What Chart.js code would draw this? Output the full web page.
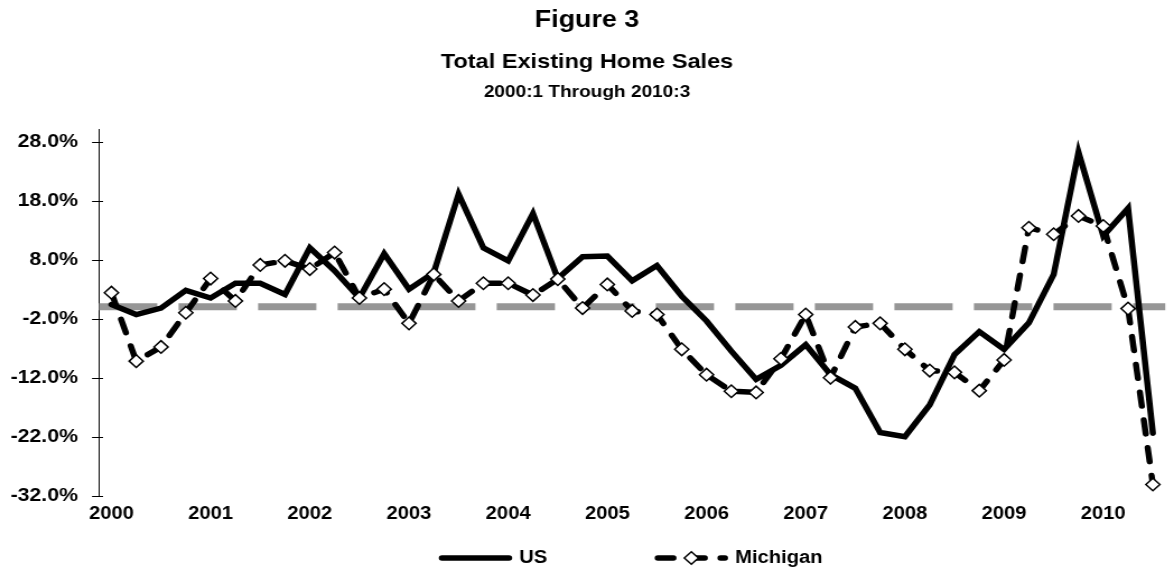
<!DOCTYPE html>
<html>
<head>
<meta charset="utf-8">
<script src="https://cdn.jsdelivr.net/npm/chart.js"></script>
<style>
html,body{margin:0;padding:0;background:#fff;overflow:hidden;}
#wrap{width:1048px;height:571px;transform:scaleX(1.12023);transform-origin:0 0;}
canvas{display:block;}
</style>
</head>
<body>
<div id="wrap"><canvas id="c" width="1048" height="571"></canvas></div>
<script>
const quarters = [
  '2000:1','2000:2','2000:3','2000:4','2001:1','2001:2','2001:3','2001:4',
  '2002:1','2002:2','2002:3','2002:4','2003:1','2003:2','2003:3','2003:4',
  '2004:1','2004:2','2004:3','2004:4','2005:1','2005:2','2005:3','2005:4',
  '2006:1','2006:2','2006:3','2006:4','2007:1','2007:2','2007:3','2007:4',
  '2008:1','2008:2','2008:3','2008:4','2009:1','2009:2','2009:3','2009:4',
  '2010:1','2010:2','2010:3'
];
const usValues = [
  0.4, -1.3, -0.2, 2.8, 1.5, 4.0, 4.0, 2.1,
  10.0, 6.1, 1.5, 9.0, 3.0, 5.8, 19.1, 10.0,
  7.8, 15.8, 4.8, 8.5, 8.6, 4.4, 7.0, 1.8,
  -2.4, -7.5, -12.3, -9.9, -6.4, -11.5, -13.8, -21.3,
  -22.0, -16.6, -8.1, -4.2, -7.2, -2.7, 5.5, 26.2,
  12.0, 16.7, -21.4
];
const michiganValues = [
  2.4, -9.2, -6.8, -1.0, 4.8, 1.0, 7.1, 7.8,
  6.4, 9.2, 1.5, 3.0, -2.8, 5.5, 1.0, 4.0,
  4.0, 2.0, 4.7, -0.2, 3.8, -0.7, -1.3, -7.2,
  -11.5, -14.3, -14.5, -8.8, -1.3, -12.0, -3.4, -2.8,
  -7.2, -10.8, -11.1, -14.2, -9.0, 13.4, 12.3, 15.4,
  13.7, -0.3, -30.1
];
const yTickValues = [-32, -22, -12, -2, 8, 18, 28];
const seriesNames = ['US', 'Michigan'];
const titleText = 'Figure 3';
const subtitleText = 'Total Existing Home Sales';
const periodText = '2000:1 Through 2010:3';

const FONT = "'Liberation Sans', Arial, Helvetica, sans-serif";
const LINE_W = 5.5;
const MI_DASH = [14, 14];

const zeroLine = {
  id: 'zeroLine',
  beforeDatasetsDraw(chart) {
    const {ctx, chartArea, scales: {y}} = chart;
    const py = y.getPixelForValue(0);
    ctx.save();
    ctx.strokeStyle = '#969696';
    ctx.lineWidth = 7;
    ctx.setLineDash([52, 19]);
    ctx.beginPath();
    ctx.moveTo(chartArea.left, py);
    ctx.lineTo(chartArea.right, py);
    ctx.stroke();
    ctx.restore();
  }
};

const crossTicks = {
  id: 'crossTicks',
  afterDraw(chart) {
    const {ctx, chartArea, scales: {y}} = chart;
    ctx.save();
    ctx.strokeStyle = '#000';
    ctx.lineWidth = 1;
    yTickValues.forEach(v => {
      const py = Math.round(y.getPixelForValue(v)) + 0.5;
      ctx.beginPath();
      ctx.moveTo(chartArea.left - 6.25, py);
      ctx.lineTo(chartArea.left + 3.6, py);
      ctx.stroke();
    });
    ctx.restore();
  }
};

const legendDiamond = {
  id: 'legendDiamond',
  afterDraw(chart) {
    const lg = chart.legend;
    if (!lg || !lg.legendHitBoxes || !lg.legendItems) return;
    const ctx = chart.ctx;
    lg.legendItems.forEach((item, i) => {
      if (item.datasetIndex !== 1) return;
      const hb = lg.legendHitBoxes[i];
      const bw = lg.options.labels.pointStyleWidth;
      ctx.save();
      ctx.setLineDash([]);
      ctx.fillStyle = '#fff';
      ctx.strokeStyle = '#000';
      ctx.lineWidth = 1.5;
      Chart.helpers.drawPoint(ctx, {pointStyle: 'rectRot', radius: 6.3, rotation: 0, borderWidth: 1.5}, hb.left + bw / 2, hb.top + 9);
      ctx.restore();
    });
  }
};

new Chart(document.getElementById('c'), {
  type: 'line',
  data: {
    labels: quarters,
    datasets: [
      {
        label: seriesNames[0],
        data: usValues,
        borderColor: '#000',
        backgroundColor: '#000',
        borderWidth: LINE_W,
        borderJoinStyle: 'miter',
        borderCapStyle: 'round',
        pointRadius: 0,
        tension: 0,
        order: 2
      },
      {
        label: seriesNames[1],
        data: michiganValues,
        borderColor: '#000',
        backgroundColor: '#fff',
        borderWidth: LINE_W,
        borderDash: MI_DASH,
        borderCapStyle: 'round',
        pointStyle: 'rectRot',
        pointRadius: 6.3,
        pointBorderWidth: 1.5,
        pointBackgroundColor: '#fff',
        pointBorderColor: '#000',
        tension: 0,
        order: 1
      }
    ]
  },
  options: {
    responsive: false,
    animation: false,
    devicePixelRatio: 1,
    layout: {padding: {left: 0, right: 0, top: 0, bottom: 0}},
    plugins: {
      tooltip: {enabled: false},
      title: {
        display: true, text: titleText, color: '#000',
        font: {family: FONT, size: 24, weight: 'bold', lineHeight: 1.2},
        padding: {top: 5.5, bottom: 0}
      },
      subtitle: {
        display: true, text: subtitleText, color: '#000',
        font: {family: FONT, size: 21, weight: 'bold', lineHeight: 1.2},
        padding: {top: 15.5, bottom: 0}
      },
      legend: {
        position: 'bottom',
        fullSize: false,
        maxHeight: 45.7,
        labels: {
          color: '#000',
          font: {family: FONT, size: 18, weight: 'bold'},
          usePointStyle: true,
          pointStyleWidth: 60,
          padding: 23.7,
          sort: (a, b) => a.datasetIndex - b.datasetIndex,
          generateLabels(chart) {
            const items = Chart.defaults.plugins.legend.labels.generateLabels(chart);
            return items.map(it => {
              const ds = chart.data.datasets[it.datasetIndex];
              it.pointStyle = 'line';
              it.lineCap = 'round';
              it.lineWidth = ds.borderWidth;
              it.lineDash = ds.borderDash || [];
              it.lineDashOffset = 0;
              it.strokeStyle = ds.borderColor;
              it.fillStyle = ds.borderColor;
              if (it.datasetIndex === 0) it.text = it.text + ' '.repeat(15);
              return it;
            });
          }
        }
      }
    },
    scales: {
      x: {
        type: 'category',
        offset: true,
        grid: {display: false, drawTicks: false},
        border: {display: false},
        ticks: {
          autoSkip: false, maxRotation: 0, minRotation: 0, padding: 8,
          color: '#000',
          font: {family: FONT, size: 18, weight: 'bold', lineHeight: 1.2},
          callback: (v, i) => (i % 4 === 0 ? quarters[i].slice(0, 4) : '')
        },
        afterFit: s => { s.height = 29.6; }
      },
      xTop: {
        type: 'category',
        position: 'top',
        fullSize: true,
        offset: true,
        grid: {display: false, drawTicks: false},
        border: {display: false},
        ticks: {display: false},
        title: {
          display: true, text: periodText, color: '#000',
          font: {family: FONT, size: 17, weight: 'bold', lineHeight: 1.2},
          padding: {top: 6.7, bottom: 27.7}
        }
      },
      y: {
        type: 'linear',
        position: 'left',
        min: -32,
        max: 30,
        grid: {display: false, drawTicks: false},
        border: {display: true, color: '#000', width: 1},
        afterBuildTicks: s => { s.ticks = yTickValues.map(v => ({value: v})); },
        ticks: {
          padding: 18.8,
          color: '#000',
          font: {family: FONT, size: 19, weight: 'bold'},
          callback: v => Number(v).toFixed(1) + '%'
        },
        afterFit: s => { s.width = 88.4; }
      }
    }
  },
  plugins: [zeroLine, crossTicks, legendDiamond]
});
</script>
</body>
</html>
